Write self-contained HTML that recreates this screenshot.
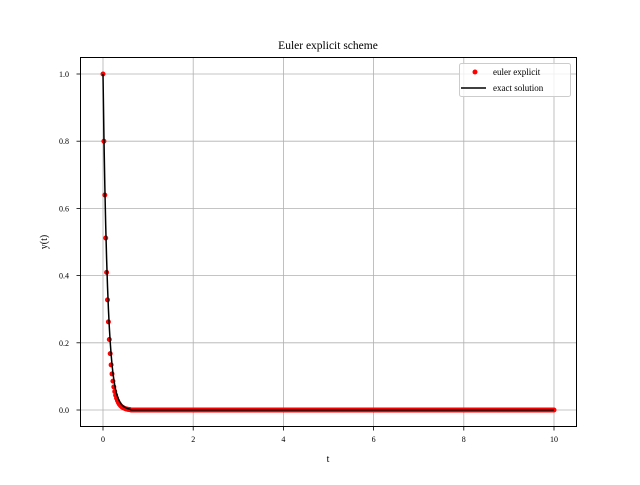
<!DOCTYPE html>
<html><head><meta charset="utf-8"><style>
body{margin:0;background:#fff}
svg text{font-family:"Liberation Serif",serif;fill:#000}
</style></head><body>
<svg id="chart" width="640" height="480" xmlns="http://www.w3.org/2000/svg">
<rect x="0" y="0" width="640" height="480" fill="#fff"/>
<text x="328" y="49" font-size="11.5" text-anchor="middle">Euler explicit scheme</text>
<g id="grid"></g>
<g id="ticks"></g>
<g id="series"></g>
<rect x="80.5" y="57.5" width="496" height="369" fill="none" stroke="#000" stroke-width="1"/>
<text x="328" y="462" font-size="10" text-anchor="middle">t</text>
<text x="47" y="242" font-size="10" text-anchor="middle" transform="rotate(-90 47 242)">y(t)</text>
<g>
<rect x="459.5" y="63.5" width="111" height="33" rx="2" fill="#fff" fill-opacity="0.8" stroke="#ccc"/>
<circle cx="475" cy="72" r="2.5" fill="red"/>
<text x="493" y="75" font-size="9">euler explicit</text>
<line x1="461" y1="88" x2="486" y2="88" stroke="#000" stroke-width="1.5"/>
<text x="493" y="91" font-size="9">exact solution</text>
</g>
</svg>
<script>
const dt = 0.02;
const eulerHead = [1,0.8,0.64,0.512,0.4096,0.32768,0.262144,0.209715,0.167772,0.134218,0.107374,0.085899,0.068719,0.054976,0.04398,0.035184,0.028147,0.022518,0.018014,0.014412,0.011529,0.009223,0.007379,0.005903,0.004722,0.003778,0.003022,0.002418,0.001934,0.001547,0.001238];
const exactHead = [1,0.8187,0.6703,0.5488,0.4493,0.3679,0.3012,0.2466,0.2019,0.1653,0.1353,0.1108,0.0907,0.0743,0.0608,0.0498,0.0408,0.0334,0.0273,0.0224,0.0183,0.0150,0.0123,0.0101,0.0082,0.0067,0.0055,0.0045,0.0037,0.0030,0.0025];
const nSteps = 500;
const xTicks = [0,2,4,6,8,10];
const yTicks = [0.0,0.2,0.4,0.6,0.8,1.0];
const yTickLabels = ["0.0","0.2","0.4","0.6","0.8","1.0"];

const eulerVals = eulerHead.concat(new Array(nSteps+1-eulerHead.length).fill(0));
const exactVals = exactHead.concat(new Array(nSteps+1-exactHead.length).fill(0));

const NS="http://www.w3.org/2000/svg";
function X(v){return 103+45.1*v;}
function Y(v){return 410-336*v;}
function mk(tag,attrs,parent){const e=document.createElementNS(NS,tag);for(const k in attrs)e.setAttribute(k,attrs[k]);parent.appendChild(e);return e;}
const grid=document.getElementById('grid'),ticks=document.getElementById('ticks'),series=document.getElementById('series');
xTicks.forEach(v=>{
  const g=mk('line',{x1:X(v),x2:X(v),y1:58,y2:427,stroke:'#b0b0b0','stroke-width':0.8},grid);
  
  
  const t=mk('line',{x1:X(v),x2:X(v),y1:427,y2:430.5,stroke:'#000','stroke-width':0.8},ticks);
  
  
  const l=mk('text',{x:X(v),y:442,'font-size':8,'text-anchor':'middle'},ticks);
  l.textContent=String(v);
  
  
});
yTicks.forEach((v,i)=>{
  const g=mk('line',{x1:80,x2:576,y1:Y(v),y2:Y(v),stroke:'#b0b0b0','stroke-width':0.8},grid);
  
  
  const t=mk('line',{x1:76.5,x2:80,y1:Y(v),y2:Y(v),stroke:'#000','stroke-width':0.8},ticks);
  
  
  const l=mk('text',{x:69,y:Y(v)+3,'font-size':8,'text-anchor':'end'},ticks);
  l.textContent=yTickLabels[i];
  
  
});
eulerVals.forEach((v,i)=>{
  const c=mk('circle',{cx:X(i*dt),cy:Y(v),r:2.5,fill:'red'},series);
  
  
});
const d=exactVals.map((v,i)=>(i?'L':'M')+X(i*dt).toFixed(2)+' '+Y(v).toFixed(2)).join(' ');
const p=mk('path',{d:d,fill:'none',stroke:'#000','stroke-width':1.5},series);


</script>
</body></html>
